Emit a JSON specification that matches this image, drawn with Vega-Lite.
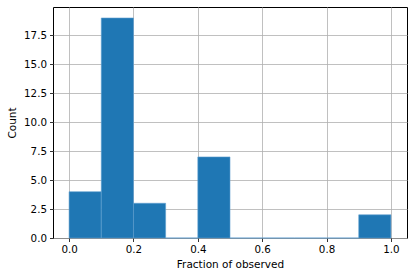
{
  "$schema": "https://vega.github.io/schema/vega-lite/v6.json",
  "width": 354,
  "height": 231,
  "autosize": {"type": "none"},
  "padding": {"left": 53, "top": 7, "right": 9, "bottom": 40},
  "background": "white",
  "config": {
    "font": "DejaVu Sans",
    "view": {"stroke": "black", "strokeWidth": 1},
    "axis": {
      "labelFont": "DejaVu Sans",
      "titleFont": "DejaVu Sans",
      "labelFontSize": 10.3,
      "titleFontSize": 10.5,
      "titleFontWeight": "normal",
      "labelColor": "black",
      "titleColor": "black",
      "domain": false,
      "tickColor": "black",
      "tickSize": 3.5,
      "tickWidth": 0.8,
      "gridColor": "#b0b0b0",
      "gridWidth": 0.8,
      "zindex": 1
    }
  },
  "data": {
    "values": [
      {"bin_start": 0.0, "bin_end": 0.1, "count": 4},
      {"bin_start": 0.1, "bin_end": 0.2, "count": 19},
      {"bin_start": 0.2, "bin_end": 0.3, "count": 3},
      {"bin_start": 0.3, "bin_end": 0.4, "count": 0},
      {"bin_start": 0.4, "bin_end": 0.5, "count": 7},
      {"bin_start": 0.5, "bin_end": 0.6, "count": 0},
      {"bin_start": 0.6, "bin_end": 0.7, "count": 0},
      {"bin_start": 0.7, "bin_end": 0.8, "count": 0},
      {"bin_start": 0.8, "bin_end": 0.9, "count": 0},
      {"bin_start": 0.9, "bin_end": 1.0, "count": 2}
    ]
  },
  "mark": {"type": "bar", "color": "#1f77b4", "stroke": "#5f9fd0", "strokeWidth": 0.6},
  "encoding": {
    "x": {
      "field": "bin_start",
      "type": "quantitative",
      "scale": {"domain": [-0.05, 1.05], "nice": false, "zero": false},
      "axis": {
        "title": "Fraction of observed",
        "values": [0, 0.2, 0.4, 0.6, 0.8, 1.0],
        "format": ".1f",
        "labelPadding": 3,
        "titlePadding": 5
      }
    },
    "x2": {"field": "bin_end"},
    "y": {
      "field": "count",
      "type": "quantitative",
      "scale": {"domain": [0, 19.95], "nice": false},
      "axis": {
        "title": "Count",
        "values": [0, 2.5, 5, 7.5, 10, 12.5, 15, 17.5],
        "format": ".1f",
        "labelPadding": 3,
        "titlePadding": 6
      }
    },
    "y2": {"datum": 0}
  }
}
